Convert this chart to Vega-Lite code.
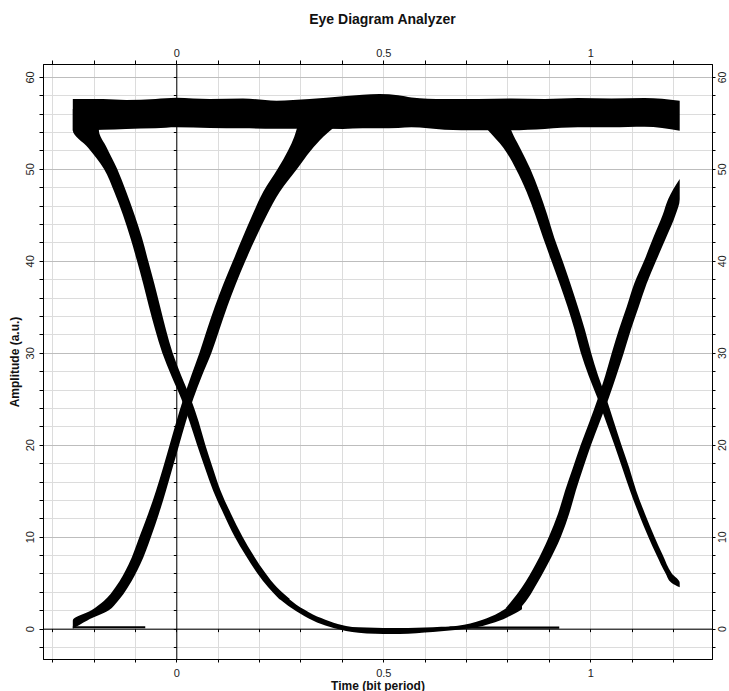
{
  "$schema": "https://vega.github.io/schema/vega-lite/v6.json",
  "width": 669,
  "height": 595,
  "autosize": {"type": "none"},
  "padding": {"left": 43, "top": 64, "right": 17, "bottom": 32},
  "background": "white",
  "title": {"text": "Eye Diagram Analyzer", "font": "Liberation Sans", "fontSize": 14, "fontWeight": "bold", "color": "#111111", "anchor": "middle", "frame": "group", "offset": 20, "dx": 5},
  "config": {
    "view": {"stroke": "#000000", "strokeWidth": 1},
    "axis": {
      "labelFont": "Liberation Sans", "labelFontSize": 11, "labelColor": "#222222",
      "titleFont": "Liberation Sans", "titleFontSize": 12, "titleFontWeight": "bold", "titleColor": "#111111",
      "domainColor": "#000000", "tickColor": "#000000", "gridColor": "#dcdcdc", "gridWidth": 1
    }
  },
  "datasets": {
    "rail": [
      {"x": -0.25, "lo": 54.15, "hi": 57.59},
      {"x": -0.177, "lo": 54.25, "hi": 57.59},
      {"x": -0.121, "lo": 54.34, "hi": 57.48},
      {"x": -0.05, "lo": 54.4, "hi": 57.6},
      {"x": 0, "lo": 54.51, "hi": 57.73},
      {"x": 0.081, "lo": 54.45, "hi": 57.59},
      {"x": 0.161, "lo": 54.4, "hi": 57.66},
      {"x": 0.242, "lo": 54.35, "hi": 57.41},
      {"x": 0.322, "lo": 54.35, "hi": 57.59},
      {"x": 0.403, "lo": 54.34, "hi": 57.9},
      {"x": 0.45, "lo": 54.4, "hi": 58.05},
      {"x": 0.491, "lo": 54.4, "hi": 58.13},
      {"x": 0.536, "lo": 54.45, "hi": 58.0},
      {"x": 0.568, "lo": 54.51, "hi": 57.77},
      {"x": 0.648, "lo": 54.26, "hi": 57.59},
      {"x": 0.729, "lo": 54.2, "hi": 57.59},
      {"x": 0.809, "lo": 54.2, "hi": 57.66},
      {"x": 0.89, "lo": 54.34, "hi": 57.59},
      {"x": 0.97, "lo": 54.51, "hi": 57.7},
      {"x": 1.051, "lo": 54.51, "hi": 57.66},
      {"x": 1.131, "lo": 54.59, "hi": 57.7},
      {"x": 1.216, "lo": 54.15, "hi": 57.41}
    ],
    "trough": [
      {"x": 0.25, "lo": 3.2, "hi": 4.1},
      {"x": 0.27, "lo": 2.5, "hi": 3.3},
      {"x": 0.29, "lo": 1.9, "hi": 2.6},
      {"x": 0.31, "lo": 1.35, "hi": 2.05},
      {"x": 0.33, "lo": 0.9, "hi": 1.55},
      {"x": 0.35, "lo": 0.5, "hi": 1.15},
      {"x": 0.37, "lo": 0.2, "hi": 0.8},
      {"x": 0.39, "lo": -0.05, "hi": 0.5},
      {"x": 0.41, "lo": -0.25, "hi": 0.3},
      {"x": 0.44, "lo": -0.45, "hi": 0.15},
      {"x": 0.48, "lo": -0.55, "hi": 0.1},
      {"x": 0.52, "lo": -0.57, "hi": 0.08},
      {"x": 0.56, "lo": -0.55, "hi": 0.08},
      {"x": 0.6, "lo": -0.42, "hi": 0.12},
      {"x": 0.64, "lo": -0.28, "hi": 0.2},
      {"x": 0.68, "lo": -0.12, "hi": 0.32},
      {"x": 0.71, "lo": 0.05, "hi": 0.57},
      {"x": 0.74, "lo": 0.3, "hi": 0.97},
      {"x": 0.76, "lo": 0.55, "hi": 1.32},
      {"x": 0.78, "lo": 0.85, "hi": 1.77},
      {"x": 0.8, "lo": 1.25, "hi": 2.3},
      {"x": 0.82, "lo": 1.7, "hi": 2.95},
      {"x": 0.835, "lo": 2.1, "hi": 3.5}
    ],
    "edges": [
      {"edge": "f1", "y": 56.5, "xl": -0.25, "xr": -0.17},
      {"edge": "f1", "y": 54.2, "xl": -0.25, "xr": -0.187},
      {"edge": "f1", "y": 52.3, "xl": -0.213, "xr": -0.168},
      {"edge": "f1", "y": 50, "xl": -0.175, "xr": -0.143},
      {"edge": "f1", "y": 47.5, "xl": -0.15, "xr": -0.121},
      {"edge": "f1", "y": 45, "xl": -0.129, "xr": -0.101},
      {"edge": "f1", "y": 42.5, "xl": -0.111, "xr": -0.083},
      {"edge": "f1", "y": 40, "xl": -0.095, "xr": -0.068},
      {"edge": "f1", "y": 37.5, "xl": -0.08, "xr": -0.053},
      {"edge": "f1", "y": 35, "xl": -0.066, "xr": -0.039},
      {"edge": "f1", "y": 32.5, "xl": -0.051, "xr": -0.025},
      {"edge": "f1", "y": 30, "xl": -0.034, "xr": -0.009},
      {"edge": "f1", "y": 27.5, "xl": -0.012, "xr": 0.012},
      {"edge": "f1", "y": 25, "xl": 0.012, "xr": 0.035},
      {"edge": "f1", "y": 22.5, "xl": 0.032, "xr": 0.054},
      {"edge": "f1", "y": 20, "xl": 0.05, "xr": 0.07},
      {"edge": "f1", "y": 17.5, "xl": 0.069, "xr": 0.088},
      {"edge": "f1", "y": 15, "xl": 0.089, "xr": 0.107},
      {"edge": "f1", "y": 12.5, "xl": 0.114, "xr": 0.132},
      {"edge": "f1", "y": 10, "xl": 0.141, "xr": 0.16},
      {"edge": "f1", "y": 8, "xl": 0.167, "xr": 0.186},
      {"edge": "f1", "y": 6, "xl": 0.196, "xr": 0.216},
      {"edge": "f1", "y": 4.5, "xl": 0.222, "xr": 0.243},
      {"edge": "f1", "y": 3.2, "xl": 0.249, "xr": 0.275},
      {"edge": "r1", "y": 0, "xl": -0.25, "xr": -0.25},
      {"edge": "r1", "y": 0.9, "xl": -0.25, "xr": -0.215},
      {"edge": "r1", "y": 2, "xl": -0.205, "xr": -0.163},
      {"edge": "r1", "y": 3, "xl": -0.175, "xr": -0.141},
      {"edge": "r1", "y": 4.5, "xl": -0.147, "xr": -0.117},
      {"edge": "r1", "y": 7, "xl": -0.115, "xr": -0.087},
      {"edge": "r1", "y": 10, "xl": -0.089, "xr": -0.061},
      {"edge": "r1", "y": 12.5, "xl": -0.068, "xr": -0.042},
      {"edge": "r1", "y": 15, "xl": -0.049, "xr": -0.025},
      {"edge": "r1", "y": 17.5, "xl": -0.032, "xr": -0.009},
      {"edge": "r1", "y": 20, "xl": -0.016, "xr": 0.007},
      {"edge": "r1", "y": 22.5, "xl": 0.0, "xr": 0.023},
      {"edge": "r1", "y": 25, "xl": 0.017, "xr": 0.041},
      {"edge": "r1", "y": 27.5, "xl": 0.036, "xr": 0.062},
      {"edge": "r1", "y": 30, "xl": 0.056, "xr": 0.085},
      {"edge": "r1", "y": 32.5, "xl": 0.074, "xr": 0.104},
      {"edge": "r1", "y": 35, "xl": 0.093, "xr": 0.123},
      {"edge": "r1", "y": 37.5, "xl": 0.114, "xr": 0.144},
      {"edge": "r1", "y": 40, "xl": 0.137, "xr": 0.167},
      {"edge": "r1", "y": 42.5, "xl": 0.16, "xr": 0.192},
      {"edge": "r1", "y": 45, "xl": 0.184, "xr": 0.219},
      {"edge": "r1", "y": 47.5, "xl": 0.21, "xr": 0.25},
      {"edge": "r1", "y": 50, "xl": 0.245, "xr": 0.292},
      {"edge": "r1", "y": 52, "xl": 0.27, "xr": 0.325},
      {"edge": "r1", "y": 53.5, "xl": 0.285, "xr": 0.355},
      {"edge": "r1", "y": 54.5, "xl": 0.292, "xr": 0.38},
      {"edge": "r1", "y": 56, "xl": 0.3, "xr": 0.4},
      {"edge": "f2", "y": 56, "xl": 0.72, "xr": 0.8},
      {"edge": "f2", "y": 54.2, "xl": 0.753, "xr": 0.809},
      {"edge": "f2", "y": 52.3, "xl": 0.79, "xr": 0.83},
      {"edge": "f2", "y": 50, "xl": 0.82, "xr": 0.855},
      {"edge": "f2", "y": 47.5, "xl": 0.846, "xr": 0.877},
      {"edge": "f2", "y": 45, "xl": 0.867, "xr": 0.896},
      {"edge": "f2", "y": 42.5, "xl": 0.886, "xr": 0.913},
      {"edge": "f2", "y": 40, "xl": 0.906, "xr": 0.933},
      {"edge": "f2", "y": 37.5, "xl": 0.926, "xr": 0.952},
      {"edge": "f2", "y": 35, "xl": 0.945, "xr": 0.97},
      {"edge": "f2", "y": 32.5, "xl": 0.962, "xr": 0.987},
      {"edge": "f2", "y": 30, "xl": 0.977, "xr": 1.002},
      {"edge": "f2", "y": 27.5, "xl": 0.996, "xr": 1.019},
      {"edge": "f2", "y": 25, "xl": 1.018, "xr": 1.039},
      {"edge": "f2", "y": 22.5, "xl": 1.038, "xr": 1.057},
      {"edge": "f2", "y": 20, "xl": 1.058, "xr": 1.075},
      {"edge": "f2", "y": 17.5, "xl": 1.077, "xr": 1.094},
      {"edge": "f2", "y": 15, "xl": 1.096, "xr": 1.111},
      {"edge": "f2", "y": 12.5, "xl": 1.117, "xr": 1.132},
      {"edge": "f2", "y": 10, "xl": 1.14, "xr": 1.155},
      {"edge": "f2", "y": 8, "xl": 1.16, "xr": 1.175},
      {"edge": "f2", "y": 6, "xl": 1.182, "xr": 1.197},
      {"edge": "f2", "y": 5, "xl": 1.196, "xr": 1.216},
      {"edge": "f2", "y": 4.5, "xl": 1.216, "xr": 1.216},
      {"edge": "r2", "y": 2.2, "xl": 0.795, "xr": 0.83},
      {"edge": "r2", "y": 3, "xl": 0.81, "xr": 0.845},
      {"edge": "r2", "y": 4.5, "xl": 0.835, "xr": 0.866},
      {"edge": "r2", "y": 7, "xl": 0.868, "xr": 0.897},
      {"edge": "r2", "y": 10, "xl": 0.9, "xr": 0.929},
      {"edge": "r2", "y": 12.5, "xl": 0.922, "xr": 0.949},
      {"edge": "r2", "y": 15, "xl": 0.939, "xr": 0.965},
      {"edge": "r2", "y": 17.5, "xl": 0.958, "xr": 0.983},
      {"edge": "r2", "y": 20, "xl": 0.977, "xr": 1.002},
      {"edge": "r2", "y": 22.5, "xl": 0.998, "xr": 1.023},
      {"edge": "r2", "y": 25, "xl": 1.018, "xr": 1.044},
      {"edge": "r2", "y": 27.5, "xl": 1.036, "xr": 1.063},
      {"edge": "r2", "y": 30, "xl": 1.052, "xr": 1.081},
      {"edge": "r2", "y": 32.5, "xl": 1.069, "xr": 1.098},
      {"edge": "r2", "y": 35, "xl": 1.088, "xr": 1.117},
      {"edge": "r2", "y": 37.5, "xl": 1.106, "xr": 1.136},
      {"edge": "r2", "y": 40, "xl": 1.13, "xr": 1.159},
      {"edge": "r2", "y": 42.5, "xl": 1.152, "xr": 1.183},
      {"edge": "r2", "y": 45, "xl": 1.175, "xr": 1.206},
      {"edge": "r2", "y": 46.7, "xl": 1.188, "xr": 1.216},
      {"edge": "r2", "y": 48.9, "xl": 1.216, "xr": 1.216}
    ],
    "zero": [
      {"seg": "z1", "x": -0.25, "y": 0.15},
      {"seg": "z1", "x": -0.075, "y": 0.15},
      {"seg": "z2", "x": 0.66, "y": 0.12},
      {"seg": "z2", "x": 0.925, "y": 0.12}
    ]
  },
  "layer": [
    {
      "data": {"name": "rail"},
      "mark": {"type": "area", "color": "#000000", "interpolate": "monotone"},
      "encoding": {
        "x": {"field": "x", "type": "quantitative", "scale": {"domain": [-0.322, 1.294], "nice": false, "zero": false},
          "axis": {"orient": "bottom", "values": [-0.3, -0.2, -0.1, 0, 0.1, 0.2, 0.3, 0.4, 0.5, 0.6, 0.7, 0.8, 0.9, 1, 1.1, 1.2],
            "format": "~g",
            "labelExpr": "datum.value == 0 || datum.value == 0.5 || datum.value == 1 ? datum.label : ''",
            "labelOverlap": false, "labelFlush": false, "labelBound": false, "grid": true, "tickSize": 3, "labelPadding": 5,
            "title": "Time (bit period)", "titlePadding": 2}},
        "y": {"field": "lo", "type": "quantitative", "scale": {"domain": [-3.3, 61.4], "nice": false, "zero": false},
          "axis": {"orient": "left", "values": [-2, 0, 2, 4, 6, 8, 10, 12, 14, 16, 18, 20, 22, 24, 26, 28, 30, 32, 34, 36, 38, 40, 42, 44, 46, 48, 50, 52, 54, 56, 58, 60],
            "labelExpr": "datum.value % 10 == 0 ? datum.label : ''", "labelOverlap": false, "labelFlush": false, "labelBound": false,
            "grid": true, "tickSize": 4, "labelAngle": -90, "labelAlign": "center", "labelBaseline": "bottom", "labelPadding": 4,
            "title": "Amplitude (a.u.)", "titlePadding": 3}},
        "y2": {"field": "hi"}
      }
    },
    {
      "data": {"name": "trough"},
      "mark": {"type": "area", "color": "#000000", "interpolate": "monotone"},
      "encoding": {
        "x": {"field": "x", "type": "quantitative", "scale": {"domain": [-0.322, 1.294], "nice": false, "zero": false},
          "axis": {"orient": "top", "values": [-0.3, -0.2, -0.1, 0, 0.1, 0.2, 0.3, 0.4, 0.5, 0.6, 0.7, 0.8, 0.9, 1, 1.1, 1.2],
            "format": "~g",
            "labelExpr": "datum.value == 0 || datum.value == 0.5 || datum.value == 1 ? datum.label : ''",
            "labelOverlap": false, "labelFlush": false, "labelBound": false, "grid": false, "tickSize": 4, "labelPadding": 2, "title": null}},
        "y": {"field": "lo", "type": "quantitative", "scale": {"domain": [-3.3, 61.4], "nice": false, "zero": false},
          "axis": {"orient": "right", "values": [-2, 0, 2, 4, 6, 8, 10, 12, 14, 16, 18, 20, 22, 24, 26, 28, 30, 32, 34, 36, 38, 40, 42, 44, 46, 48, 50, 52, 54, 56, 58, 60],
            "labelExpr": "datum.value % 10 == 0 ? datum.label : ''", "labelOverlap": false, "labelFlush": false, "labelBound": false,
            "grid": false, "tickSize": 3, "labelAngle": -90, "labelAlign": "center", "labelBaseline": "top", "labelPadding": 2, "labelFontSize": 10.5, "title": null}},
        "y2": {"field": "hi"}
      }
    },
    {
      "data": {"name": "edges"},
      "mark": {"type": "area", "color": "#000000", "orient": "horizontal", "interpolate": "monotone"},
      "encoding": {
        "y": {"field": "y", "type": "quantitative", "scale": {"domain": [-3.3, 61.4], "nice": false, "zero": false},
          "axis": {"orient": "left", "values": [0, 10, 20, 30, 40, 50, 60], "grid": true, "gridColor": "#bdbdbd",
            "ticks": false, "labels": false, "domain": false, "title": null}},
        "x": {"field": "xl", "type": "quantitative", "scale": {"domain": [-0.322, 1.294], "nice": false, "zero": false},
          "axis": {"orient": "bottom", "offset": -30.35, "values": [-0.3, -0.2, -0.1, 0, 0.1, 0.2, 0.3, 0.4, 0.5, 0.6, 0.7, 0.8, 0.9, 1, 1.1, 1.2],
            "grid": false, "labels": false, "tickSize": 3, "title": null}},
        "x2": {"field": "xr"},
        "detail": {"field": "edge"}
      }
    },
    {
      "data": {"name": "zero"},
      "mark": {"type": "line", "color": "#000000", "strokeWidth": 2.2},
      "encoding": {
        "x": {"field": "x", "type": "quantitative", "scale": {"domain": [-0.322, 1.294], "nice": false, "zero": false}, "axis": null},
        "y": {"field": "y", "type": "quantitative", "scale": {"domain": [-3.3, 61.4], "nice": false, "zero": false},
          "axis": {"orient": "left", "offset": -133.3, "values": [-2, 0, 2, 4, 6, 8, 10, 12, 14, 16, 18, 20, 22, 24, 26, 28, 30, 32, 34, 36, 38, 40, 42, 44, 46, 48, 50, 52, 54, 56, 58, 60],
            "grid": false, "labels": false, "tickSize": 3, "title": null}},
        "detail": {"field": "seg"}
      }
    }
  ],
  "resolve": {"axis": {"x": "independent", "y": "independent"}}
}
